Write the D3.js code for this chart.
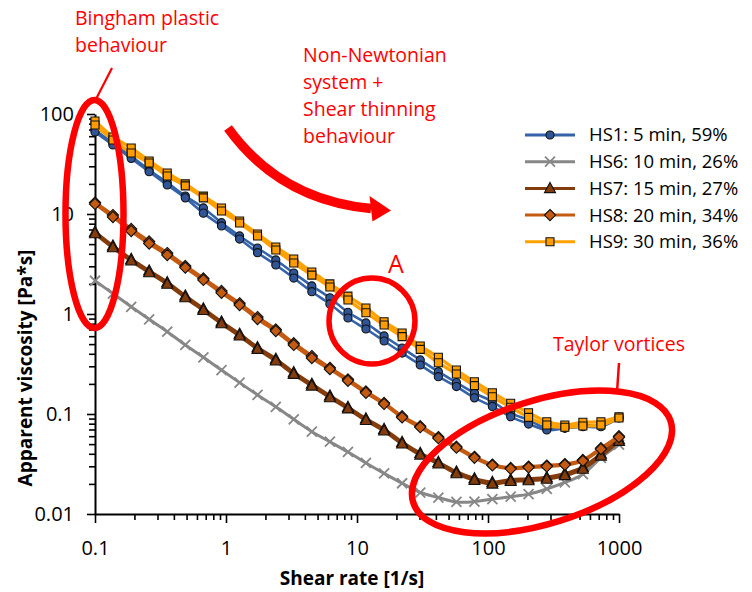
<!DOCTYPE html>
<html>
<head>
<meta charset="utf-8">
<script src="https://cdn.jsdelivr.net/npm/d3@7"></script>
<style>
  body { margin: 0; background: #fff; }
  svg { display: block; }
  text { font-family: "Open Sans", "Liberation Sans", sans-serif; }
</style>
</head>
<body>
<svg id="chart" width="752" height="592"></svg>
<script>
// Shear rates of the logarithmic ramp [1/s]
const shearRate = [0.1, 0.137, 0.189, 0.259, 0.356, 0.489, 0.672, 0.924, 1.27, 1.74,
  2.40, 3.29, 4.52, 6.21, 8.53, 11.7, 16.1, 22.1, 30.4, 41.8,
  57.4, 78.8, 108, 149, 204, 281, 386, 530, 728, 1000];

// Apparent viscosity [Pa*s], two runs per sample
const hs1RunA = [69.2, 51.3, 38.0, 27.5, 20.6, 15.1, 11.5, 8.18, 6.03, 4.57,
  3.47, 2.57, 1.91, 1.45, 1.04, 0.813, 0.603, 0.457, 0.347, 0.265,
  0.206, 0.162, 0.133, 0.102, 0.0871, 0.0719, 0.0747, 0.0776, 0.0776, 0.0933];
const hs1RunB = [66.1, 49.0, 36.0, 26.5, 19.5, 14.5, 10.2, 7.59, 5.62, 4.10,
  3.09, 2.29, 1.67, 1.26, 0.912, 0.708, 0.537, 0.407, 0.309, 0.236,
  0.188, 0.145, 0.119, 0.094, 0.0794, 0.0692, 0.0719, 0.0747, 0.0747, 0.0912];

const hs6Run = [2.15, 1.60, 1.18, 0.885, 0.666, 0.490, 0.369, 0.275, 0.206, 0.155,
  0.118, 0.0885, 0.0666, 0.0528, 0.0417, 0.0324, 0.0255, 0.0203, 0.0164, 0.0146,
  0.0132, 0.0133, 0.0141, 0.0149, 0.0158, 0.0178, 0.0207, 0.0250, 0.0365, 0.0495];

const hs7RunA = [6.61, 4.80, 3.53, 2.70, 2.07, 1.52, 1.13, 0.835, 0.630, 0.463,
  0.354, 0.260, 0.199, 0.152, 0.117, 0.0898, 0.0705, 0.0523, 0.0405, 0.0330,
  0.0264, 0.0226, 0.0208, 0.0220, 0.0224, 0.0232, 0.0253, 0.0294, 0.0397, 0.0557];
const hs7RunB = [6.37, 4.62, 3.40, 2.60, 1.99, 1.46, 1.09, 0.803, 0.605, 0.445,
  0.340, 0.250, 0.191, 0.146, 0.113, 0.0864, 0.0679, 0.0503, 0.0390, 0.0318,
  0.0254, 0.0218, 0.0200, 0.0212, 0.0216, 0.0224, 0.0243, 0.0282, 0.0381, 0.0535];

const hs8RunA = [13.0, 9.77, 7.08, 5.31, 4.07, 3.02, 2.27, 1.70, 1.28, 0.933,
  0.700, 0.510, 0.380, 0.290, 0.222, 0.168, 0.129, 0.095, 0.0755, 0.0588,
  0.0471, 0.0373, 0.0312, 0.0289, 0.0298, 0.0305, 0.0316, 0.0347, 0.0455, 0.0600];
const hs8RunB = [12.6, 9.33, 6.76, 5.07, 3.89, 2.91, 2.19, 1.63, 1.23, 0.891,
  0.676, 0.490, 0.363, 0.281, 0.215, 0.163, 0.126, 0.0925, 0.0738, 0.0573,
  0.0460, 0.0365, 0.0306, 0.0283, 0.0292, 0.0299, 0.0310, 0.0340, 0.0446, 0.0587];

const hs9RunA = [85.1, 58.9, 45.7, 33.9, 25.7, 20.0, 15.1, 11.5, 8.51, 6.31,
  4.68, 3.55, 2.63, 2.00, 1.51, 1.15, 0.838, 0.646, 0.479, 0.369,
  0.275, 0.210, 0.163, 0.128, 0.103, 0.0838, 0.0776, 0.0826, 0.0838, 0.094];
const hs9RunB = [77.6, 55.0, 40.7, 32.4, 24.0, 19.1, 14.5, 10.7, 8.13, 6.03,
  4.37, 3.24, 2.45, 1.86, 1.38, 1.03, 0.776, 0.594, 0.443, 0.326,
  0.251, 0.192, 0.149, 0.117, 0.0926, 0.0776, 0.0736, 0.0759, 0.0776, 0.0912];

const seriesNames = ["HS1: 5 min, 59%", "HS6: 10 min, 26%", "HS7: 15 min, 27%", "HS8: 20 min, 34%", "HS9: 30 min, 36%"];
const xTickValues = [0.1, 1, 10, 100, 1000];
const xTickLabels = ["0.1", "1", "10", "100", "1000"];
const yTickValues = [0.01, 0.1, 1, 10, 100];
const yTickLabels = ["0.01", "0.1", "1", "10", "100"];

const series = [
  { name: seriesNames[0], runs: [hs1RunA, hs1RunB], line: "#3563a9", fill: "#2f5597", marker: "circle", width: 2.6 },
  { name: seriesNames[1], runs: [hs6Run], line: "#878787", fill: "#878787", marker: "cross", width: 3 },
  { name: seriesNames[2], runs: [hs7RunA, hs7RunB], line: "#843c0c", fill: "#843c0c", marker: "triangle", width: 3.4 },
  { name: seriesNames[3], runs: [hs8RunA, hs8RunB], line: "#c55a11", fill: "#c55a11", marker: "diamond", width: 3.4 },
  { name: seriesNames[4], runs: [hs9RunA, hs9RunB], line: "#ffa200", fill: "#ff9d00", marker: "square", width: 3.4 }
];

const svg = d3.select("#chart");
const plot = { left: 95, right: 619, top: 114, bottom: 514 };

const x = d3.scaleLog().domain([0.1, 1000]).range([plot.left, plot.right]);
const y = d3.scaleLog().domain([0.01, 100]).range([plot.bottom, plot.top]);

// Marker shapes centred on the origin
function markerPath(type) {
  switch (type) {
    case "circle": return d3.symbol(d3.symbolCircle, 52)();
    case "square": return "M-4,-4H4V4H-4Z";
    case "triangle": return "M0,-6L5.5,4.2H-5.5Z";
    case "diamond": return "M0,-5.6L5.6,0L0,5.6L-5.6,0Z";
    case "cross": return "M-5,-5L5,5M5,-5L-5,5";
  }
}
function drawMarker(g, type, s, px, py) {
  const p = g.append("path").attr("d", markerPath(type)).attr("transform", `translate(${px},${py})`);
  if (type === "cross") {
    p.attr("fill", "none").attr("stroke", s.fill).attr("stroke-width", 1.8);
  } else {
    p.attr("fill", s.fill).attr("stroke", "#111").attr("stroke-width", 1.1);
  }
}

// Axes
const minorX = [];
for (let e = -1; e < 3; e++) for (let m = 2; m <= 9; m++) minorX.push(m * Math.pow(10, e));
const minorY = [];
for (let e = -2; e < 2; e++) for (let m = 2; m <= 9; m++) minorY.push(m * Math.pow(10, e));

const xAxisG = svg.append("g").attr("transform", `translate(0,${plot.bottom})`);
xAxisG.call(d3.axisBottom(x).tickValues(minorX).tickSize(6).tickFormat(""));
xAxisG.call(g => g.select(".domain").remove());
const xMajor = svg.append("g").attr("transform", `translate(0,${plot.bottom})`)
  .call(d3.axisBottom(x).tickValues(xTickValues).tickSize(9).tickSizeOuter(0)
    .tickFormat((d, i) => xTickLabels[i]));
xMajor.selectAll("text").attr("font-size", 20).attr("fill", "#000").attr("dy", 0).attr("y", 41)
  .style("font-family", '"Open Sans", sans-serif');

const yAxisG = svg.append("g").attr("transform", `translate(${plot.left},0)`);
yAxisG.call(d3.axisLeft(y).tickValues(minorY).tickSize(6).tickFormat(""));
yAxisG.call(g => g.select(".domain").remove());
const yMajor = svg.append("g").attr("transform", `translate(${plot.left},0)`)
  .call(d3.axisLeft(y).tickValues(yTickValues).tickSize(8).tickSizeOuter(0)
    .tickFormat((d, i) => yTickLabels[i]));
yMajor.selectAll("text").attr("font-size", 20).attr("fill", "#000").attr("x", -21)
  .style("font-family", '"Open Sans", sans-serif');

svg.selectAll(".tick line").attr("stroke", "#000").attr("stroke-width", 1.6);
svg.selectAll(".domain").attr("stroke", "#000").attr("stroke-width", 2);

// Axis titles
svg.append("text").attr("x", 352).attr("y", 585).attr("text-anchor", "middle")
  .attr("font-size", 19).attr("font-weight", "bold").text("Shear rate [1/s]");
svg.append("text").attr("transform", "translate(32,368) rotate(-90)").attr("text-anchor", "middle")
  .attr("font-size", 19).attr("font-weight", "bold").text("Apparent viscosity [Pa*s]");

// Series: lines first, then markers
const line = d3.line().x((d, i) => x(shearRate[i])).y(d => y(d)).curve(d3.curveCatmullRom.alpha(0.5));
const dataG = svg.append("g");
series.forEach(s => {
  const g = dataG.append("g");
  s.runs.forEach(run => {
    g.append("path").attr("d", line(run)).attr("fill", "none")
      .attr("stroke", s.line).attr("stroke-width", s.width).attr("stroke-linejoin", "round");
  });
  s.runs.forEach(run => {
    run.forEach((v, i) => drawMarker(g, s.marker, s, x(shearRate[i]), y(v)));
  });
});

// Legend
const legend = svg.append("g");
series.forEach((s, i) => {
  const ly = 135 + i * 26.7;
  legend.append("line").attr("x1", 525).attr("x2", 575).attr("y1", ly).attr("y2", ly)
    .attr("stroke", s.line).attr("stroke-width", 3);
  drawMarker(legend, s.marker, s, 550, ly);
  legend.append("text").attr("x", 589).attr("y", ly).attr("dy", "0.35em")
    .attr("font-size", 18.5).attr("fill", "#000").text(s.name);
});

// Annotations
const red = "#ff0000";
const notes = svg.append("g");
notes.append("text").attr("x", 75).attr("y", 25).attr("font-size", 19.5).attr("fill", red).text("Bingham plastic");
notes.append("text").attr("x", 75).attr("y", 52).attr("font-size", 19.5).attr("fill", red).text("behaviour");
notes.append("line").attr("x1", 112).attr("y1", 68).attr("x2", 95).attr("y2", 101)
  .attr("stroke", red).attr("stroke-width", 2.2);
notes.append("ellipse").attr("cx", 94.5).attr("cy", 214).attr("rx", 29).attr("ry", 114)
  .attr("fill", "none").attr("stroke", red).attr("stroke-width", 6.5);

["Non-Newtonian", "system +", "Shear thinning", "behaviour"].forEach((t, i) => {
  notes.append("text").attr("x", 303).attr("y", 62 + i * 27).attr("font-size", 19.5).attr("fill", red).text(t);
});
notes.append("path").attr("d", "M228,128Q280,200 371,208.5").attr("fill", "none")
  .attr("stroke", red).attr("stroke-width", 9.5);
notes.append("path").attr("d", "M369.5,196L391,210.5L372.5,221.5Z").attr("fill", red);

notes.append("circle").attr("cx", 372).attr("cy", 321).attr("r", 43)
  .attr("fill", "none").attr("stroke", red).attr("stroke-width", 5.5);
notes.append("text").attr("x", 396).attr("y", 273).attr("text-anchor", "middle")
  .attr("font-size", 25).attr("fill", red).text("A");

notes.append("ellipse").attr("cx", 0).attr("cy", 0).attr("rx", 135).attr("ry", 61.5)
  .attr("transform", "translate(542,462) rotate(-17.5)")
  .attr("fill", "none").attr("stroke", red).attr("stroke-width", 6.5);
notes.append("line").attr("x1", 619).attr("y1", 363).attr("x2", 617).attr("y2", 392)
  .attr("stroke", red).attr("stroke-width", 2.5);
notes.append("text").attr("x", 553).attr("y", 351).attr("font-size", 19.5).attr("fill", red).text("Taylor vortices");
</script>
</body>
</html>
